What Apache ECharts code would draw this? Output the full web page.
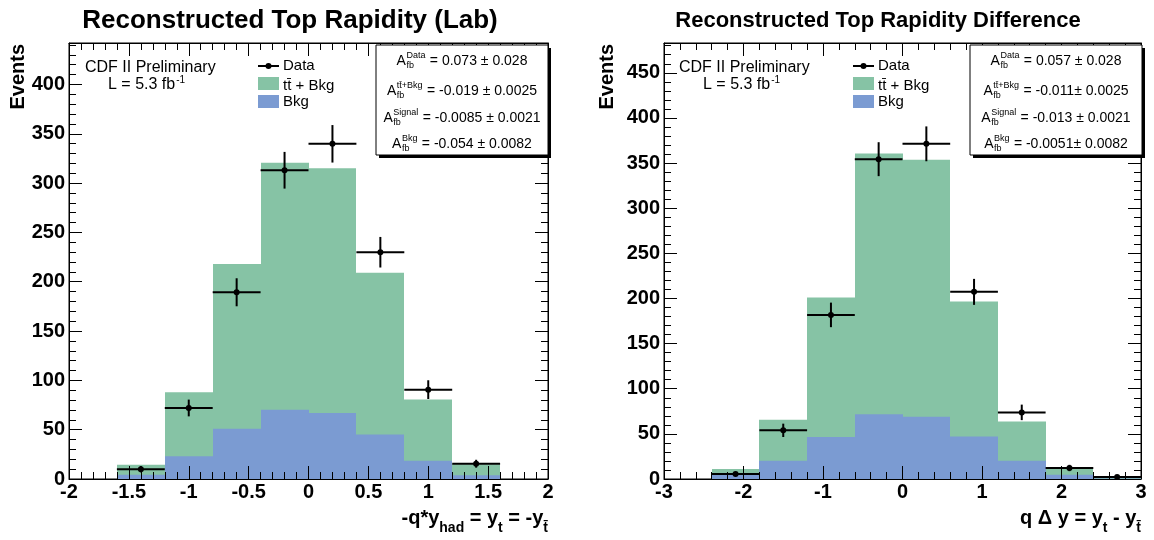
<!DOCTYPE html>
<html><head><meta charset="utf-8">
<script src="https://cdn.jsdelivr.net/npm/echarts@6/dist/echarts.min.js"></script>
<style>html,body{margin:0;padding:0;background:#fff}#c{width:1154px;height:540px}</style>
</head><body><div id="c"></div>
<script>
// ---------------- data: left panel (top rapidity, lab frame) ----------------
const labBinEdges = [-1.6, -1.2, -0.8, -0.4, 0, 0.4, 0.8, 1.2, 1.6];
const labTotal = [14.5, 88, 218, 320.5, 315, 209, 80.5, 15];      // tt̄ + Bkg
const labBkg   = [4.4, 23, 51, 70.3, 67, 45, 18.6, 3.7];          // Bkg
const labData  = [10, 72, 189.3, 313, 339.8, 229.9, 90.6, 15.5];  // Data
const labErr   = [3.2, 8.5, 14.2, 18.6, 19, 15.5, 9.5, 4];
const labXTicks = ['-2', '-1.5', '-1', '-0.5', '0', '0.5', '1', '1.5', '2'];
const labYTicks = ['0', '50', '100', '150', '200', '250', '300', '350', '400'];
const labYMax = 442;
const labStats = [['Data', '0.073 \u00b1 0.028'], ['t t\u0304+Bkg', '-0.019 \u00b1 0.0025'], ['Signal', '-0.0085 \u00b1 0.0021'], ['Bkg', '-0.054 \u00b1 0.0082']];

// ---------------- data: right panel (rapidity difference) ----------------
const diffBinEdges = [-2.4, -1.8, -1.2, -0.6, 0, 0.6, 1.2, 1.8, 2.4, 3.0];
const diffTotal = [11, 65.7, 201, 360.6, 353.6, 196.5, 63.8, 12.2, 1.2];
const diffBkg   = [4.8, 20.3, 46.5, 71.6, 69, 47.2, 20.3, 4.8, 0.5];
const diffData  = [5.5, 53.9, 181.8, 354.3, 371.3, 207.3, 73.8, 12.2, 2.2];
const diffErr   = [2.3, 7.4, 13.6, 18.8, 19.3, 14.4, 8.6, 3.5, 1.5];
const diffXTicks = ['-3', '-2', '-1', '0', '1', '2', '3'];
const diffYTicks = ['0', '50', '100', '150', '200', '250', '300', '350', '400', '450'];
const diffYMax = 483;
const diffStats = [['Data', '0.057 \u00b1 0.028'], ['t t\u0304+Bkg', '-0.011\u00b1 0.0025'], ['Signal', '-0.013 \u00b1 0.0021'], ['Bkg', '-0.0051\u00b1 0.0082']];

// ---------------- styling ----------------
const FONT = '"Liberation Sans", Arial, Helvetica, sans-serif';
const GREEN = '#86c3a5';
const BLUE = '#7b9bd2';

const chart = echarts.init(document.getElementById('c'), null, {renderer: 'canvas'});

function histItems(edges, vals) { return vals.map((v, i) => [edges[i], edges[i + 1], v]); }
function dataItems(edges, vals, errs) {
  return vals.map((v, i) => [(edges[i] + edges[i + 1]) / 2, v, errs[i], edges[i], edges[i + 1]]);
}
function histRender(color) {
  return function (params, api) {
    const lo = api.value(0), hi = api.value(1), v = api.value(2);
    const a = api.coord([lo, 0]), b = api.coord([hi, v]);
    const x0 = Math.round(a[0]), x1 = Math.round(b[0]);
    return {type: 'rect', shape: {x: x0, y: b[1], width: x1 - x0, height: a[1] - b[1]}, style: {fill: color}};
  };
}
function dataRender(params, api) {
  const x = api.value(0), y = api.value(1), e = api.value(2), lo = api.value(3), hi = api.value(4);
  const c = api.coord([x, y]), l = api.coord([lo, y]), r = api.coord([hi, y]);
  const t = api.coord([x, y + e]), b = api.coord([x, Math.max(0, y - e)]);
  return {type: 'group', children: [
    {type: 'line', shape: {x1: l[0], y1: c[1], x2: r[0], y2: c[1]}, style: {stroke: '#000', lineWidth: 2}},
    {type: 'line', shape: {x1: c[0], y1: t[1], x2: c[0], y2: b[1]}, style: {stroke: '#000', lineWidth: 2}},
    {type: 'circle', shape: {cx: c[0], cy: c[1], r: 3}, style: {fill: '#000'}}
  ]};
}
function labelFmt(ticks) {
  return function (v) {
    for (const s of ticks) { if (Math.abs(parseFloat(s) - v) < 1e-7) return s; }
    return '';
  };
}
function xAxesFor(gi, ticks) {
  const common = {
    gridIndex: gi, type: 'value', min: parseFloat(ticks[0]), max: parseFloat(ticks[ticks.length - 1]),
    interval: parseFloat(ticks[1]) - parseFloat(ticks[0]), splitLine: {show: false}, z: 5,
    axisTick: {show: true, inside: true, length: 13, lineStyle: {color: '#000', width: 1}},
    minorTick: {show: true, splitNumber: 5, length: 7, lineStyle: {color: '#000', width: 1}},
    minorSplitLine: {show: false}
  };
  return [
    Object.assign({}, common, {position: 'bottom',
      axisLine: {show: true, onZero: false, lineStyle: {color: '#000', width: 1}},
      axisLabel: {show: true, margin: 3, color: '#000', fontSize: 20, fontWeight: 'bold', fontFamily: FONT,
        showMinLabel: true, showMaxLabel: true, formatter: labelFmt(ticks)}}),
    Object.assign({}, common, {position: 'top',
      axisLine: {show: true, onZero: false, lineStyle: {color: '#000', width: 1}},
      axisLabel: {show: false}})
  ];
}
function yAxesFor(gi, ticks, maxV) {
  const common = {
    gridIndex: gi, type: 'value', min: 0, max: maxV, interval: parseFloat(ticks[1]) - parseFloat(ticks[0]),
    splitLine: {show: false}, z: 5,
    axisTick: {show: true, inside: true, length: 13, lineStyle: {color: '#000', width: 1}},
    minorTick: {show: true, splitNumber: 5, length: 7, lineStyle: {color: '#000', width: 1}},
    minorSplitLine: {show: false}
  };
  return [
    Object.assign({}, common, {position: 'left',
      axisLine: {show: true, onZero: false, lineStyle: {color: '#000', width: 1}},
      axisLabel: {show: true, margin: 4, color: '#000', fontSize: 20, fontWeight: 'bold', fontFamily: FONT,
        showMaxLabel: false, formatter: labelFmt(ticks)}}),
    Object.assign({}, common, {position: 'right',
      axisLine: {show: true, onZero: false, lineStyle: {color: '#000', width: 1}},
      axisLabel: {show: false}})
  ];
}

// ---------------- text helpers (graphic) ----------------
const mctx = document.createElement('canvas').getContext('2d');
function tw(str, size, weight) { mctx.font = (weight || 'normal') + ' ' + size + 'px ' + FONT; return mctx.measureText(str).width; }
function textEl(x, baseline, str, size, weight, extra) {
  return Object.assign({type: 'text', x: x, y: baseline - 0.35 * size, z: 110,
    style: {text: str, fontSize: size, fontWeight: weight || 'normal', fontFamily: FONT, fill: '#000', align: 'left', verticalAlign: 'middle'}}, extra || {});
}
function statBox(x, y, w, h, stats) {
  const els = [
    {type: 'rect', z: 100, shape: {x: x + 3, y: y + 3, width: w, height: h}, style: {fill: '#000'}},
    {type: 'rect', z: 101, shape: {x: x, y: y, width: w, height: h}, style: {fill: '#fff', stroke: '#000', lineWidth: 1}}
  ];
  const cx = x + w / 2;
  const base = [y + 21, y + 51, y + 78, y + 104];
  stats.forEach((s, i) => {
    const sup = s[0].replace(' ', '');
    const wA = tw('A', 14), wS = Math.max(tw(sup, 9), tw('fb', 9)), val = ' = ' + s[1], wV = tw(val, 14);
    const x0 = cx - (wA + wS + wV + 1) / 2, b = base[i];
    els.push(textEl(x0, b, 'A', 14));
    els.push(textEl(x0 + wA + 0.5, b - 7, sup, 9));
    els.push(textEl(x0 + wA + 0.5, b + 3, 'fb', 9));
    els.push(textEl(x0 + wA + wS + 1, b, val, 14));
  });
  return els;
}
function legendEls(x, cdfX, lX) {
  return [
    textEl(cdfX, 73, 'CDF II Preliminary', 16),
    textEl(lX, 90, 'L = 5.3 fb', 16),
    textEl(lX + tw('L = 5.3 fb', 16) + 1, 84, '-1', 10),
    {type: 'line', z: 110, shape: {x1: x, y1: 66, x2: x + 21, y2: 66}, style: {stroke: '#000', lineWidth: 2}},
    {type: 'circle', z: 111, shape: {cx: x + 10.5, cy: 66, r: 3}, style: {fill: '#000'}},
    {type: 'rect', z: 110, shape: {x: x, y: 77, width: 21, height: 13}, style: {fill: GREEN}},
    {type: 'rect', z: 110, shape: {x: x, y: 95, width: 21, height: 13}, style: {fill: BLUE}},
    textEl(x + 25, 71.5, 'Data', 15),
    textEl(x + 25, 91, 'tt\u0304 + Bkg', 15),
    textEl(x + 25, 107, 'Bkg', 15)
  ];
}
function axisTitle(rightX, baseline, pieces) {
  const MS = 20, SS = 14;
  let total = 0;
  pieces.forEach(p => { total += tw(p[0], p[1] ? SS : MS, 'bold'); });
  let x = rightX - total;
  const els = [];
  pieces.forEach(p => {
    const sz = p[1] ? SS : MS;
    els.push(textEl(x, p[1] ? baseline + 8 : baseline, p[0], sz, 'bold'));
    x += tw(p[0], sz, 'bold');
  });
  return els;
}

const graphic = [].concat(
  [
    {type: 'text', x: 290, y: 21, z: 110, style: {text: 'Reconstructed Top Rapidity (Lab)', fontSize: 26, fontWeight: 'bold', fontFamily: FONT, fill: '#000', align: 'center', verticalAlign: 'middle'}},
    {type: 'text', x: 878, y: 21, z: 110, style: {text: 'Reconstructed Top Rapidity Difference', fontSize: 22, fontWeight: 'bold', fontFamily: FONT, fill: '#000', align: 'center', verticalAlign: 'middle'}},
    {type: 'text', x: 18, y: 44, rotation: Math.PI / 2, z: 110, style: {text: 'Events', fontSize: 20, fontWeight: 'bold', fontFamily: FONT, fill: '#000', align: 'right', verticalAlign: 'middle'}},
    {type: 'text', x: 607, y: 44, rotation: Math.PI / 2, z: 110, style: {text: 'Events', fontSize: 20, fontWeight: 'bold', fontFamily: FONT, fill: '#000', align: 'right', verticalAlign: 'middle'}}
  ],
  axisTitle(548, 525, [['-q*y', 0], ['had', 1], [' = y', 0], ['t', 1], [' = -y', 0], ['t\u0304', 1]]),
  axisTitle(1141, 525, [['q \u0394 y = y', 0], ['t', 1], [' - y', 0], ['t\u0304', 1]]),
  legendEls(258, 85, 108),
  legendEls(853, 679, 703),
  statBox(376, 45, 172, 110, labStats),
  statBox(970, 45, 172, 110, diffStats)
);

const option = {
  animation: false,
  backgroundColor: '#fff',
  grid: [
    {left: 69, top: 43, width: 479, height: 436, show: true, borderColor: '#000', borderWidth: 1, backgroundColor: 'transparent', containLabel: false, outerBoundsMode: 'none'},
    {left: 664, top: 43, width: 477, height: 436, show: true, borderColor: '#000', borderWidth: 1, backgroundColor: 'transparent', containLabel: false, outerBoundsMode: 'none'}
  ],
  xAxis: [].concat(xAxesFor(0, labXTicks), xAxesFor(1, diffXTicks)),
  yAxis: [].concat(yAxesFor(0, labYTicks, labYMax), yAxesFor(1, diffYTicks, diffYMax)),
  series: [
    {name: 'tt\u0304 + Bkg', type: 'custom', xAxisIndex: 0, yAxisIndex: 0, renderItem: histRender(GREEN), encode: {x: [0, 1], y: 2}, data: histItems(labBinEdges, labTotal), z: 2},
    {name: 'Bkg', type: 'custom', xAxisIndex: 0, yAxisIndex: 0, renderItem: histRender(BLUE), encode: {x: [0, 1], y: 2}, data: histItems(labBinEdges, labBkg), z: 3},
    {name: 'Data', type: 'custom', xAxisIndex: 0, yAxisIndex: 0, renderItem: dataRender, encode: {x: 0, y: 1}, data: dataItems(labBinEdges, labData, labErr), z: 6},
    {name: 'tt\u0304 + Bkg', type: 'custom', xAxisIndex: 2, yAxisIndex: 2, renderItem: histRender(GREEN), encode: {x: [0, 1], y: 2}, data: histItems(diffBinEdges, diffTotal), z: 2},
    {name: 'Bkg', type: 'custom', xAxisIndex: 2, yAxisIndex: 2, renderItem: histRender(BLUE), encode: {x: [0, 1], y: 2}, data: histItems(diffBinEdges, diffBkg), z: 3},
    {name: 'Data', type: 'custom', xAxisIndex: 2, yAxisIndex: 2, renderItem: dataRender, encode: {x: 0, y: 1}, data: dataItems(diffBinEdges, diffData, diffErr), z: 6}
  ],
  graphic: graphic
};
chart.setOption(option);
</script>
</body></html>
